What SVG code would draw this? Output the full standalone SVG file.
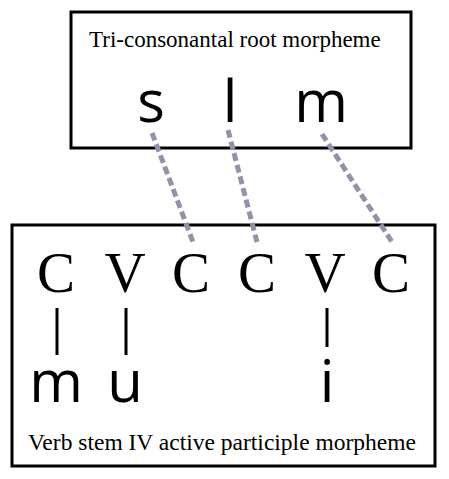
<svg xmlns="http://www.w3.org/2000/svg" width="449" height="479" viewBox="0 0 449 479">
<style>
.box{fill:#fff;stroke:#000;stroke-width:3}
.lab{font-family:"Liberation Serif",serif;font-size:23px;fill:#000}
.cv{font-family:"Liberation Serif",serif;font-size:57px;fill:#000;text-anchor:middle}
.seg{font-family:"Open Sans","DejaVu Sans",sans-serif;font-size:58px;fill:#000;text-anchor:middle}
.dash{stroke:#9a8fab;stroke-width:5;stroke-dasharray:8 4;fill:none}
.bar{stroke:#000;stroke-width:3}
</style>
<rect width="449" height="479" fill="#fff"/>
<g id="root">
<rect class="box" x="71" y="12" width="340" height="136"/>
<text class="lab" x="89" y="47">Tri-consonantal root morpheme</text>
<text class="seg" x="151" y="122">s</text>
<text class="seg" x="230" y="122">l</text>
<text class="seg" x="321" y="122">m</text>
</g>
<g id="stem">
<rect class="box" x="12" y="225" width="423" height="241"/>
<text class="cv" x="56" y="292">C</text>
<text class="cv" x="125" y="292">V</text>
<text class="cv" x="191" y="292">C</text>
<text class="cv" x="257" y="292">C</text>
<text class="cv" x="325" y="292">V</text>
<text class="cv" x="391" y="292">C</text>
<line class="bar" x1="57" y1="308" x2="57" y2="355"/>
<line class="bar" x1="126" y1="308" x2="126" y2="355"/>
<line class="bar" x1="327" y1="308" x2="327" y2="347"/>
<text class="seg" x="56" y="402">m</text>
<text class="seg" x="125" y="402">u</text>
<text class="seg" x="327" y="402">i</text>
<text class="lab" x="28" y="450" textLength="388" lengthAdjust="spacingAndGlyphs">Verb stem IV active participle morpheme</text>
</g>
<g id="connectors">
<line class="dash" x1="152" y1="133" x2="193" y2="242"/>
<line class="dash" x1="228" y1="130" x2="257" y2="242"/>
<line class="dash" x1="322" y1="134" x2="392" y2="242"/>
</g>
</svg>
